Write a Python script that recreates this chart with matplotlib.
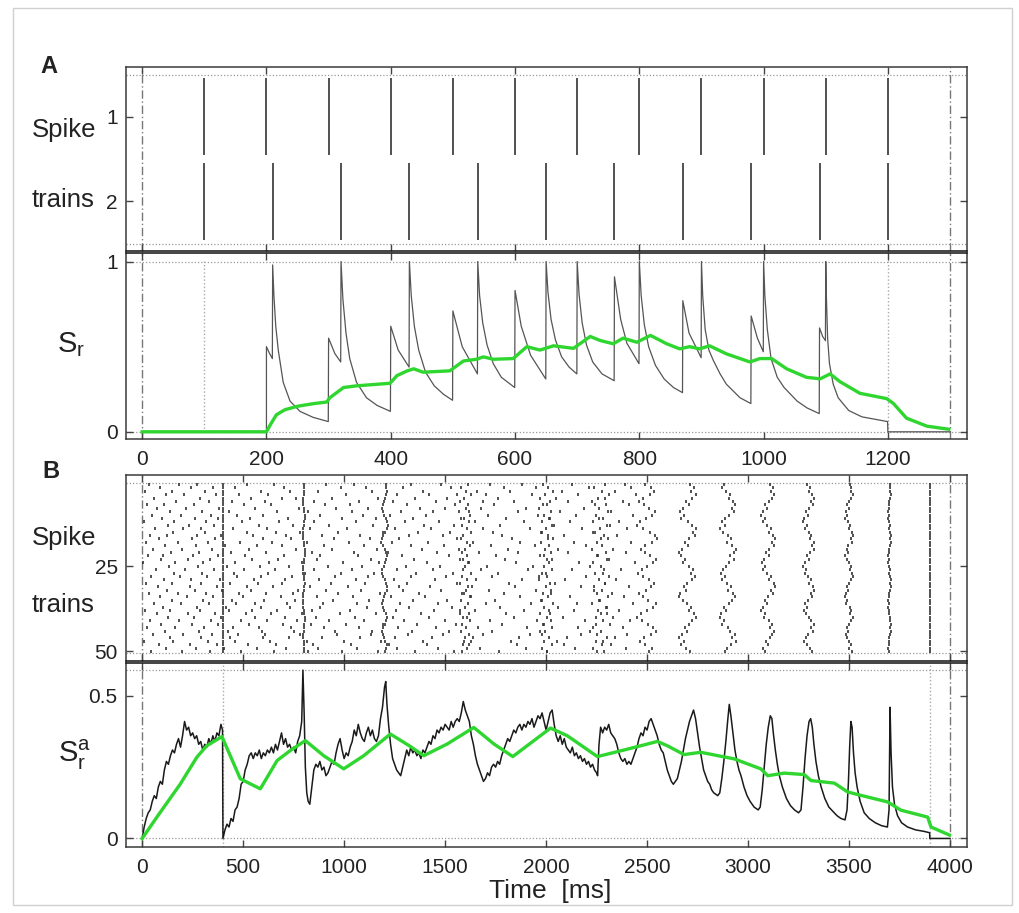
import matplotlib.pyplot as plt
from matplotlib.patches import Rectangle

plt.rcParams['font.family'] = ['Liberation Sans', 'DejaVu Sans']
plt.rcParams['mathtext.fontset'] = 'custom'
plt.rcParams['mathtext.rm'] = 'Liberation Sans'

# ── Panel A: two regular spike trains (ms) ───────────────────────────────────
A_T_END = 1300
A_TRAIN1 = [100, 200, 300, 400, 500, 600, 700, 800, 900, 1000, 1100, 1200]
A_TRAIN2 = [100, 210, 320, 430, 540, 650, 760, 870, 980, 1090, 1200]

# instantaneous S_r (time, value)
A_SR = [
    (0, 0.0), (200, 0.0),
    (200, 0.50), (205, 0.46), (209.5, 0.43),
    (210, 0.98), (212, 0.80), (215, 0.62), (219, 0.48), (227, 0.29), (238, 0.18),
    (254, 0.12), (275, 0.085), (299.5, 0.06),
    (300, 0.55), (310, 0.46), (319.5, 0.41),
    (320, 1.0), (323, 0.78), (328, 0.58), (334, 0.43), (345, 0.29), (361, 0.20),
    (378, 0.155), (399.5, 0.12),
    (400, 0.62), (412, 0.48), (429.5, 0.38),
    (430, 1.0), (433, 0.80), (438, 0.62), (445, 0.48), (456, 0.35), (470, 0.27),
    (485, 0.22), (499.5, 0.185),
    (500, 0.71), (515, 0.50), (539.5, 0.34),
    (540, 1.0), (543, 0.80), (548, 0.64), (555, 0.51), (565, 0.40), (578, 0.32), (599.5, 0.26),
    (600, 0.83), (610, 0.62), (625, 0.45), (649.5, 0.31),
    (650, 1.0), (653, 0.82), (658, 0.66), (665, 0.54), (675, 0.44), (687, 0.38), (699.5, 0.34),
    (700, 1.0), (703, 0.81), (708, 0.64), (715, 0.51), (725, 0.41), (740, 0.34), (759.5, 0.30),
    (760, 0.91), (770, 0.66), (780, 0.52), (799.5, 0.40),
    (800, 1.0), (803, 0.80), (808, 0.63), (815, 0.50), (826, 0.39), (840, 0.31),
    (855, 0.26), (869.5, 0.23),
    (870, 0.77), (880, 0.58), (899.5, 0.435),
    (900, 1.0), (902, 0.80), (906, 0.60), (912, 0.48), (919, 0.42), (930, 0.34),
    (940, 0.28), (962, 0.20), (979.5, 0.166),
    (980, 0.68), (990, 0.55), (999.5, 0.47),
    (1000, 1.0), (1002, 0.80), (1006, 0.60), (1012, 0.43), (1022, 0.32), (1033, 0.26),
    (1054, 0.18), (1070, 0.14), (1089.5, 0.107),
    (1090, 0.61), (1095, 0.56), (1099.5, 0.535),
    (1100, 1.0), (1101, 0.80), (1103, 0.55), (1106, 0.40), (1112, 0.28), (1120, 0.20),
    (1137, 0.125), (1158, 0.088), (1199.5, 0.06),
    (1200, 0.0), (1300, 0.0),
]

# running average of S_r
A_AVG = [
    (0, 0.0), (200, 0.0), (206, 0.04), (216, 0.10), (230, 0.13), (250, 0.15), (275, 0.165),
    (297, 0.175), (302, 0.20), (324, 0.26), (345, 0.27), (399, 0.285), (410, 0.33),
    (426, 0.357), (437, 0.37), (452, 0.35), (495, 0.358), (517, 0.416), (538, 0.426),
    (549, 0.44), (565, 0.426), (597, 0.43), (619, 0.50), (640, 0.48), (662, 0.505),
    (694, 0.49), (721, 0.56), (737, 0.536), (758, 0.517), (774, 0.55), (796, 0.526),
    (818, 0.566), (844, 0.517), (865, 0.487), (881, 0.50), (897, 0.487), (913, 0.505),
    (940, 0.458), (978, 0.41), (994, 0.43), (1013, 0.43), (1037, 0.37), (1069, 0.32),
    (1091, 0.311), (1107, 0.34), (1123, 0.294), (1155, 0.226), (1198, 0.195),
    (1209, 0.166), (1230, 0.08), (1263, 0.033), (1298, 0.015),
]

# ── Panel B: 50 spike trains (ms) ────────────────────────────────────────────
B_T_END = 4000
B_N = 50

# irregular background spikes, one list per train
B_BACKGROUND = [
    [35, 180, 270, 520, 655, 910, 1050, 1330, 1480, 1720, 1880, 2130, 2390],
    [90, 240, 350, 460, 700, 985, 1110, 1290, 1530, 1790, 1950, 2210, 2420],
    [15, 150, 310, 590, 730, 870, 1140, 1390, 1660, 1820, 2080, 2340],
    [120, 205, 365, 480, 625, 1010, 1260, 1420, 1560, 1700, 1930, 2160, 2445],
    [60, 285, 540, 690, 760, 940, 1170, 1350, 1510, 1760, 2050, 2290],
    [170, 330, 445, 610, 850, 1075, 1240, 1455, 1690, 1840, 2110, 2380],
    [25, 110, 255, 505, 640, 905, 1030, 1310, 1550, 1740, 1985, 2240, 2410],
    [75, 215, 380, 560, 775, 960, 1120, 1375, 1500, 1680, 1900, 2190],
    [140, 295, 430, 670, 820, 1040, 1280, 1440, 1620, 1860, 2070, 2320],
    [50, 190, 340, 470, 600, 880, 1095, 1225, 1405, 1710, 1960, 2150, 2430],
    [100, 260, 375, 535, 720, 990, 1160, 1340, 1580, 1800, 2020, 2260],
    [10, 160, 315, 495, 680, 850, 1060, 1300, 1470, 1650, 1890, 2120, 2360],
    [130, 230, 355, 580, 745, 925, 1145, 1395, 1545, 1770, 2040, 2300],
    [65, 200, 290, 450, 620, 830, 1015, 1250, 1430, 1690, 1920, 2180, 2400],
    [155, 310, 520, 665, 780, 970, 1190, 1365, 1525, 1735, 1975, 2230],
    [40, 125, 270, 390, 550, 710, 890, 1080, 1320, 1490, 1780, 2090, 2350],
    [85, 245, 360, 600, 735, 950, 1130, 1270, 1560, 1830, 2010, 2270],
    [20, 175, 325, 485, 645, 815, 1025, 1235, 1415, 1640, 1870, 2140, 2420],
    [115, 265, 410, 570, 690, 900, 1100, 1330, 1495, 1725, 1945, 2200],
    [55, 195, 345, 530, 760, 940, 1165, 1385, 1570, 1810, 2060, 2330],
    [145, 280, 440, 615, 840, 1050, 1215, 1460, 1670, 1860, 2110, 2395],
    [30, 105, 250, 375, 510, 700, 880, 1070, 1285, 1520, 1750, 1990, 2250],
    [95, 225, 335, 545, 675, 865, 1135, 1345, 1590, 1795, 2030, 2310],
    [5, 165, 300, 460, 630, 790, 995, 1175, 1410, 1615, 1850, 2165, 2440],
    [135, 275, 420, 585, 725, 920, 1090, 1305, 1475, 1705, 1935, 2215],
    [70, 210, 355, 505, 660, 850, 1040, 1260, 1440, 1680, 1910, 2130, 2370],
    [160, 295, 455, 625, 805, 985, 1150, 1355, 1540, 1760, 2000, 2280],
    [45, 185, 320, 470, 590, 740, 955, 1120, 1330, 1505, 1730, 1965, 2200],
    [110, 240, 385, 555, 705, 875, 1060, 1245, 1450, 1655, 1880, 2095, 2345],
    [20, 150, 290, 435, 575, 690, 935, 1105, 1310, 1560, 1815, 2045, 2290],
    [80, 235, 370, 520, 650, 830, 1020, 1270, 1425, 1635, 1845, 2175, 2410],
    [125, 260, 395, 540, 770, 910, 1085, 1290, 1480, 1715, 1950, 2235],
    [35, 175, 315, 480, 615, 745, 970, 1180, 1370, 1585, 1790, 2025, 2325],
    [90, 220, 350, 500, 685, 865, 1045, 1230, 1400, 1625, 1870, 2120, 2385],
    [150, 300, 445, 605, 755, 945, 1125, 1340, 1510, 1745, 1980, 2260],
    [60, 190, 330, 465, 560, 715, 895, 1065, 1275, 1465, 1700, 1925, 2155, 2430],
    [105, 270, 415, 590, 730, 880, 1115, 1320, 1535, 1770, 2060, 2300],
    [15, 140, 285, 430, 545, 670, 840, 1030, 1255, 1445, 1650, 1890, 2140, 2360],
    [75, 225, 360, 515, 640, 790, 980, 1160, 1380, 1575, 1800, 2020, 2270],
    [130, 255, 390, 560, 705, 860, 1055, 1240, 1420, 1610, 1840, 2085, 2330],
    [40, 180, 340, 490, 620, 765, 925, 1100, 1295, 1500, 1720, 1955, 2195, 2415],
    [95, 245, 375, 530, 695, 835, 1010, 1190, 1360, 1555, 1780, 1990, 2245],
    [25, 165, 305, 450, 580, 735, 900, 1075, 1265, 1455, 1665, 1905, 2160, 2380],
    [115, 280, 425, 595, 750, 955, 1140, 1335, 1520, 1730, 1970, 2215],
    [55, 200, 345, 475, 610, 780, 965, 1135, 1315, 1490, 1690, 1920, 2175, 2400],
    [140, 290, 435, 600, 725, 890, 1080, 1250, 1435, 1640, 1865, 2105, 2340],
    [10, 155, 325, 460, 635, 815, 1000, 1185, 1390, 1595, 1825, 2055, 2280],
    [85, 235, 370, 525, 665, 845, 1035, 1220, 1410, 1620, 1855, 2090, 2320],
    [120, 265, 405, 570, 710, 870, 1065, 1260, 1465, 1675, 1900, 2145, 2395],
    [45, 195, 335, 490, 655, 820, 990, 1170, 1350, 1545, 1765, 2005, 2250],
]

# events where every train fires at exactly the same time
B_SYNC = [400, 3900]

# events with per-train jitter (offsets in ms, trains 1..50)
B_EVENTS = [800, 1200, 1600, 2000, 2270, 2500, 2700, 2900, 3100, 3300, 3500, 3700]
B_JITTER = [
    [2, 3, 1, -1, -3, -4, -2, 0, 3, 5, 4, 2, -1, -3, -5, -4, -2, 1, 3, 4, 6, 5, 2, 0, -2,
     -4, -3, -1, 2, 4, 3, 1, -2, -4, -6, -5, -3, 0, 2, 4, 5, 3, 1, -1, -3, -2, 0, 2, 3, 1],
    [5, 9, 12, 8, 3, -4, -10, -14, -9, -2, 6, 13, 15, 10, 2, -6, -12, -15, -8, 0, 7, 12, 9, 3, -5,
     -11, -13, -7, 1, 9, 14, 11, 4, -3, -9, -14, -10, -2, 5, 11, 8, 1, -6, -12, -9, -3, 4, 10, 6, 0],
    [12, -20, 5, 28, -8, -25, 15, 3, -30, 22, -5, 18, -15, 8, 30, -12, -22, 6, 25, -3, -18, 10, -28, 20, 0,
     -10, 26, -16, 8, -24, 14, 2, -6, 29, -20, 11, -2, -27, 19, -9, 24, -14, 4, -21, 16, -4, 27, -11, 7, -17],
    [-15, 10, 32, -5, -28, 18, 4, -33, 25, -10, 14, -22, 30, 0, -18, 8, 35, -26, 12, -6, 22, -30, 3, 16, -12,
     28, -20, 6, -35, 20, -2, 26, -14, 10, -24, 33, -8, 15, -30, 2, 24, -16, 30, -4, -22, 12, -10, 27, -19, 5],
    [20, -35, 5, 40, -15, -42, 28, -8, 35, -25, 10, -40, 44, -2, -30, 18, 38, -20, 6, -45, 25, -12, 32, -38, 0,
     15, -28, 42, -10, 22, -33, 8, -18, 36, -5, -44, 26, -14, 30, -24, 12, 45, -36, 3, -16, 34, -22, 9, -40, 17],
    [-10, 18, 35, 12, -20, -42, -15, 8, 40, 25, -5, -33, -48, -20, 14, 38, 50, 22, -8, -30, -12, 16, 44, 30, 2,
     -26, -45, -18, 10, 33, 20, -6, -38, -22, 6, 42, 28, -2, -30, -50, -24, 4, 30, 46, 18, -14, -36, -10, 22, 8],
    [12, 30, 18, 40, 22, -5, 8, -20, -38, -15, -30, 5, 20, 44, 28, 35, 10, -12, 2, -25, -42, -30, -10, -22, 6,
     25, 15, 38, 20, -2, -18, -8, -35, -44, -20, 0, 18, 8, 30, 42, 24, 10, -14, -4, -28, -40, -18, -30, -6, 14],
    [-18, -30, -8, 10, 4, 26, 36, 18, 30, 6, -12, -28, -16, -38, -22, 0, 14, -4, 20, 38, 28, 12, 32, 8, -10,
     -24, -36, -14, -30, -6, 16, 2, 24, 36, 20, 6, -18, -8, -32, -40, -20, -28, 0, 12, 34, 22, 38, 16, -4, -16],
    [8, 22, 14, 30, 20, 2, -14, -6, -26, -34, -18, -28, -4, 12, 4, 24, 34, 18, 28, 6, -10, 2, -20, -32, -16,
     -26, -8, 14, 6, 26, 32, 16, 24, 0, -18, -8, -28, -34, -14, -22, 2, 18, 8, 30, 20, 10, -12, -2, -24, -14],
    [-6, 8, 2, 18, 26, 12, 20, 0, -14, -4, -22, -26, -10, -18, 4, 14, 6, 24, 16, 26, 8, -8, 2, -18, -26,
     -12, -20, -2, 12, 4, 22, 26, 10, 18, -4, -16, -6, -24, -14, 0, 10, 24, 14, 20, -2, -12, -22, -8, 6, 16],
    [4, 12, 8, 18, 10, 0, -8, -2, -16, -10, -18, -4, 6, 0, 14, 18, 8, 14, -4, -12, -6, -18, -12, 2, 10,
     4, 16, 20, 10, -2, -10, -4, -16, -20, -8, -14, 4, 12, 6, 18, 12, 2, -10, -4, -16, -8, 0, 8, 2, 14],
    [2, 5, 3, 7, 4, 0, -3, -1, -6, -4, -7, -2, 2, 0, 5, 7, 3, 6, 1, -3, -1, -6, -4, -7, -2,
     1, -1, 4, 6, 3, 7, 2, -2, 0, -5, -3, -7, -4, 0, 3, 1, 6, 4, 7, 2, -2, 0, -4, -6, -2],
]

# instantaneous S_r^a (time, value)
B_SR = [
    (0, 0.0), (10, 0.04), (20, 0.07), (30, 0.09), (40, 0.10), (50, 0.13), (60, 0.15), (70, 0.14),
    (80, 0.18), (90, 0.20), (100, 0.19), (110, 0.24), (120, 0.27), (130, 0.26), (140, 0.29),
    (150, 0.31), (160, 0.30), (170, 0.33), (180, 0.35), (190, 0.32), (200, 0.36), (210, 0.41),
    (220, 0.38), (230, 0.39), (240, 0.36), (250, 0.37), (260, 0.35), (270, 0.36), (280, 0.33),
    (290, 0.34), (300, 0.31), (310, 0.33), (320, 0.32), (330, 0.35), (340, 0.33), (350, 0.36),
    (360, 0.34), (370, 0.37), (380, 0.36), (390, 0.40), (398, 0.38),
    (400, 0.0), (410, 0.03), (420, 0.05), (430, 0.04), (440, 0.07), (450, 0.06), (460, 0.10),
    (470, 0.11), (480, 0.14), (490, 0.19), (500, 0.20), (510, 0.24), (520, 0.26), (530, 0.29),
    (540, 0.30), (550, 0.28), (560, 0.30), (570, 0.29), (580, 0.31), (590, 0.28), (600, 0.30),
    (610, 0.29), (620, 0.31), (630, 0.30), (640, 0.32), (650, 0.30), (660, 0.33), (670, 0.31),
    (680, 0.34), (690, 0.37), (700, 0.33), (710, 0.35), (720, 0.32), (730, 0.33), (740, 0.31),
    (750, 0.32), (760, 0.30), (770, 0.34), (780, 0.36), (790, 0.41), (796, 0.59), (802, 0.44),
    (808, 0.25), (815, 0.16), (822, 0.13), (830, 0.12), (840, 0.18), (850, 0.24), (860, 0.26),
    (870, 0.25), (880, 0.27), (890, 0.24), (900, 0.25), (910, 0.22), (920, 0.23), (930, 0.25),
    (940, 0.27), (950, 0.26), (960, 0.30), (970, 0.33), (980, 0.35), (990, 0.31), (1000, 0.28),
    (1010, 0.30), (1020, 0.29), (1030, 0.32), (1040, 0.34), (1050, 0.38), (1060, 0.36),
    (1070, 0.40), (1080, 0.37), (1090, 0.35), (1100, 0.34), (1110, 0.37), (1120, 0.39),
    (1130, 0.36), (1140, 0.38), (1150, 0.35), (1160, 0.34), (1170, 0.36), (1180, 0.42),
    (1190, 0.46), (1200, 0.53), (1206, 0.55), (1212, 0.47), (1220, 0.40), (1230, 0.33),
    (1240, 0.28), (1250, 0.26), (1260, 0.24), (1270, 0.23), (1280, 0.22), (1290, 0.25),
    (1300, 0.28), (1310, 0.31), (1320, 0.29), (1330, 0.32), (1340, 0.30), (1350, 0.31),
    (1360, 0.29), (1370, 0.30), (1380, 0.28), (1390, 0.31), (1400, 0.30), (1410, 0.32),
    (1420, 0.34), (1430, 0.33), (1440, 0.36), (1450, 0.35), (1460, 0.38), (1470, 0.37),
    (1480, 0.39), (1490, 0.38), (1500, 0.40), (1510, 0.39), (1520, 0.38), (1530, 0.41),
    (1540, 0.39), (1550, 0.41), (1560, 0.42), (1570, 0.41), (1580, 0.44), (1590, 0.48),
    (1600, 0.45), (1610, 0.43), (1620, 0.41), (1630, 0.36), (1640, 0.33), (1650, 0.29),
    (1660, 0.26), (1670, 0.24), (1680, 0.22), (1690, 0.20), (1700, 0.21), (1710, 0.23),
    (1720, 0.22), (1730, 0.25), (1740, 0.26), (1750, 0.25), (1760, 0.27), (1770, 0.26),
    (1780, 0.29), (1790, 0.31), (1800, 0.33), (1810, 0.35), (1820, 0.34), (1830, 0.36),
    (1840, 0.38), (1850, 0.37), (1860, 0.39), (1870, 0.40), (1880, 0.38), (1890, 0.40),
    (1900, 0.39), (1910, 0.41), (1920, 0.40), (1930, 0.42), (1940, 0.39), (1950, 0.41),
    (1960, 0.43), (1970, 0.42), (1980, 0.44), (1990, 0.41), (2000, 0.38), (2010, 0.41),
    (2020, 0.44), (2030, 0.45), (2040, 0.40), (2050, 0.36), (2060, 0.34), (2070, 0.36),
    (2080, 0.33), (2090, 0.35), (2100, 0.32), (2110, 0.31), (2120, 0.30), (2130, 0.32),
    (2140, 0.29), (2150, 0.30), (2160, 0.28), (2170, 0.29), (2180, 0.27), (2190, 0.28),
    (2200, 0.26), (2210, 0.27), (2220, 0.25), (2230, 0.26), (2240, 0.24), (2250, 0.23),
    (2255, 0.22), (2262, 0.33), (2270, 0.39), (2280, 0.37), (2290, 0.39), (2300, 0.38),
    (2310, 0.40), (2320, 0.37), (2330, 0.36), (2340, 0.35), (2350, 0.33), (2360, 0.30),
    (2370, 0.28), (2380, 0.27), (2390, 0.28), (2400, 0.26), (2410, 0.27), (2420, 0.26),
    (2430, 0.28), (2440, 0.30), (2450, 0.32), (2460, 0.35), (2470, 0.37), (2480, 0.36),
    (2490, 0.39), (2500, 0.38), (2510, 0.41), (2520, 0.42), (2530, 0.40), (2540, 0.38),
    (2550, 0.36), (2560, 0.33), (2570, 0.31), (2580, 0.30), (2590, 0.27), (2600, 0.24),
    (2610, 0.22), (2620, 0.20), (2630, 0.19), (2640, 0.20), (2650, 0.21), (2660, 0.24),
    (2670, 0.27), (2680, 0.31), (2690, 0.35), (2700, 0.38), (2710, 0.41), (2720, 0.43),
    (2730, 0.45), (2740, 0.42), (2750, 0.37), (2760, 0.32), (2770, 0.28), (2780, 0.24),
    (2790, 0.22), (2800, 0.20), (2810, 0.19), (2820, 0.17), (2830, 0.16), (2840, 0.155),
    (2850, 0.15), (2860, 0.16), (2870, 0.21), (2880, 0.27), (2890, 0.34), (2900, 0.42),
    (2907, 0.47), (2915, 0.43), (2925, 0.37), (2935, 0.31), (2945, 0.27), (2955, 0.24),
    (2965, 0.22), (2980, 0.18), (2995, 0.15), (3010, 0.13), (3030, 0.11), (3050, 0.10),
    (3060, 0.11), (3070, 0.17), (3080, 0.25), (3090, 0.33), (3100, 0.39), (3110, 0.43),
    (3118, 0.42), (3125, 0.37), (3135, 0.31), (3145, 0.26), (3155, 0.22), (3170, 0.18),
    (3190, 0.14), (3210, 0.115), (3230, 0.10), (3250, 0.09), (3262, 0.10), (3272, 0.18),
    (3282, 0.28), (3292, 0.36), (3302, 0.41), (3310, 0.42), (3318, 0.39), (3326, 0.33),
    (3336, 0.27), (3348, 0.22), (3362, 0.18), (3380, 0.14), (3400, 0.11), (3420, 0.095),
    (3440, 0.08), (3460, 0.07), (3480, 0.065), (3490, 0.10), (3497, 0.20), (3503, 0.32),
    (3509, 0.41), (3515, 0.39), (3522, 0.30), (3530, 0.23), (3540, 0.18), (3555, 0.13),
    (3575, 0.09), (3600, 0.07), (3630, 0.055), (3660, 0.045), (3690, 0.04), (3698, 0.10),
    (3703, 0.46), (3708, 0.30), (3715, 0.18), (3725, 0.12), (3740, 0.08), (3760, 0.055),
    (3790, 0.04), (3830, 0.03), (3870, 0.025), (3899, 0.02), (3900, 0.0), (4000, 0.0),
]

# running average of S_r^a
B_AVG = [
    (0, 0.0), (73, 0.075), (188, 0.19), (271, 0.285), (320, 0.325), (395, 0.357), (486, 0.209),
    (585, 0.174), (668, 0.273), (733, 0.308), (808, 0.343), (899, 0.29), (998, 0.244),
    (1097, 0.29), (1229, 0.366), (1329, 0.322), (1394, 0.29), (1510, 0.331), (1642, 0.389),
    (1742, 0.331), (1835, 0.287), (2022, 0.387), (2105, 0.36), (2254, 0.287), (2386, 0.31),
    (2551, 0.34), (2600, 0.325), (2683, 0.294), (2766, 0.302), (2931, 0.279), (3063, 0.244),
    (3097, 0.22), (3179, 0.229), (3278, 0.224), (3311, 0.203), (3427, 0.194), (3493, 0.163),
    (3559, 0.151), (3691, 0.128), (3757, 0.099), (3889, 0.075), (3906, 0.04), (3997, 0.012),
]

# ── Styling ──────────────────────────────────────────────────────────────────
W, H = 1019, 913
GREEN = '#2fd62f'
DOT = (0, (1, 1.6))
DASHDOT = (0, (6, 2, 1, 2))

fig = plt.figure(figsize=(W / 100, H / 100), dpi=100)


def add_axes(top, bottom, left=126, right=967):
    return fig.add_axes([left / W, 1 - bottom / H, (right - left) / W, (bottom - top) / H])


def style(ax, t_end, xticks, labels):
    ax.set_xlim(-0.02 * t_end, 1.021 * t_end)
    ax.set_xticks(xticks)
    ax.tick_params(direction='in', length=5, width=1, color='#444', top=True, right=True,
                   labelsize=15, pad=6, labelcolor='#222', labelbottom=labels)
    ax.tick_params(axis='x', pad=8)
    for s in ax.spines.values():
        s.set_color('#3a3a3a')
        s.set_linewidth(1.1)
    # the top and bottom halves of a panel meet on a dark rule
    ax.spines['bottom' if not labels else 'top'].set_color('#111')
    for t in (0, t_end):
        ax.axvline(t, color='#777', lw=1, ls=DASHDOT, zorder=1)


def raster(ax, trains, n):
    ax.eventplot(trains, lineoffsets=list(range(1, n + 1)), linelengths=0.88 if n > 2 else 0.91,
                 linewidths=1.2, colors='#333')
    pad = 0.045 * n
    ax.set_ylim(n + 0.5 + pad * 1.02, 0.5 - pad)
    for y in (0.5, n + 0.5):
        ax.axhline(y, color='#999', lw=0.9, ls=DOT, zorder=0)


# A: spike trains
ax = add_axes(67, 251.5)
raster(ax, [A_TRAIN1, A_TRAIN2], 2)
style(ax, A_T_END, range(0, 1201, 200), False)
ax.set_yticks([1, 2])

# A: S_r
ax = add_axes(253.5, 439.3)
for t in (A_TRAIN1[0], A_TRAIN1[-1]):
    ax.axvline(t, color='#aaa', lw=1, ls=DOT, ymin=0.04, ymax=0.96, zorder=1)
for y in (0, 1):
    ax.axhline(y, color='#999', lw=0.9, ls=DOT, zorder=0)
t, v = zip(*A_SR)
ax.plot(t, v, color='#555', lw=0.9, zorder=2)
t, v = zip(*A_AVG)
ax.plot(t, v, color=GREEN, lw=2.4, zorder=3)
ax.set_ylim(-0.044, 1.047)
ax.set_yticks([0, 1])
style(ax, A_T_END, range(0, 1201, 200), True)

# B: spike trains
trains = []
for i in range(B_N):
    spikes = list(B_BACKGROUND[i]) + list(B_SYNC)
    spikes += [ev + B_JITTER[k][i] for k, ev in enumerate(B_EVENTS)]
    trains.append(sorted(spikes))
ax = add_axes(475, 661)
raster(ax, trains, B_N)
style(ax, B_T_END, range(0, 4001, 500), False)
ax.set_yticks([25, 50])

# B: S_r^a
ax = add_axes(663, 847.3)
for tv in B_SYNC:
    ax.axvline(tv, color='#aaa', lw=1, ls=DOT, zorder=1)
t, v = zip(*B_SR)
for y in (0, max(v)):
    ax.axhline(y, color='#999', lw=0.9, ls=DOT, zorder=0)
ax.plot(t, v, color='#1a1a1a', lw=1.1, zorder=2)
t, v = zip(*B_AVG)
ax.plot(t, v, color=GREEN, lw=2.4, zorder=3)
ax.set_ylim(-0.031, 0.615)
ax.set_yticks([0, 0.5])
ax.set_yticklabels(['0', '0.5'])
style(ax, B_T_END, range(0, 4001, 500), True)

# labels
txt = dict(color='#222', va='baseline')
fig.text(40 / W, 1 - 73.3 / H, 'A', fontsize=17, weight='bold', **txt)
fig.text(42 / W, 1 - 478.3 / H, 'B', fontsize=17, weight='bold', **txt)
fig.text(32 / W, 1 - 136.7 / H, 'Spike', fontsize=18.5, **txt)
fig.text(32 / W, 1 - 206.7 / H, 'trains', fontsize=18.5, **txt)
fig.text(32 / W, 1 - 545 / H, 'Spike', fontsize=18.5, **txt)
fig.text(32 / W, 1 - 611.7 / H, 'trains', fontsize=18.5, **txt)
fig.text(57 / W, 1 - 351.7 / H, r'$\mathregular{S_r}$', fontsize=21, **txt)
fig.text(58 / W, 1 - 761.7 / H, r'$\mathregular{S_r^a}$', fontsize=21, **txt)
fig.text(550 / W, 1 - 898 / H, 'Time  [ms]', fontsize=19, ha='center', **txt)

# light border around the whole figure
fig.patches.append(Rectangle((13 / W, 1 - 905 / H), 999 / W, 897 / H, transform=fig.transFigure,
                             fill=False, edgecolor='#d0d0d0', lw=1))

fig.savefig('out.png', dpi=100)
